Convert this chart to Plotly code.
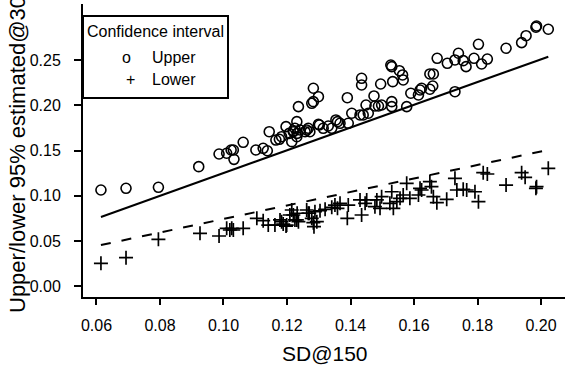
import plotly.graph_objects as go

# ---------------- data ----------------
sd_upper = [0.0614, 0.0693, 0.0795, 0.0922, 0.0986, 0.1010, 0.1024, 0.1031, 0.1033, 0.1062,
            0.1102, 0.1125, 0.1138, 0.1144, 0.1165, 0.1176, 0.1183, 0.1197, 0.1207, 0.1215,
            0.1220, 0.1225, 0.1231, 0.1231, 0.1241, 0.1236, 0.1278, 0.1283, 0.1283, 0.1299,
            0.1257, 0.1267, 0.1272, 0.1302, 0.1314, 0.1330, 0.1341, 0.1354, 0.1359, 0.1367,
            0.1393, 0.1390, 0.1404, 0.1435, 0.1435, 0.1430, 0.1440, 0.1456, 0.1449, 0.1474,
            0.1477, 0.1488, 0.1498, 0.1495, 0.1527, 0.1530, 0.1533, 0.1530, 0.1530, 0.1554,
            0.1564, 0.1566, 0.1577, 0.1590, 0.1614, 0.1619, 0.1624, 0.1650, 0.1659, 0.1650,
            0.1661, 0.1673, 0.1705, 0.1729, 0.1740, 0.1755, 0.1764, 0.1729, 0.1789, 0.1803,
            0.1813, 0.1831, 0.1890, 0.1939, 0.1953, 0.1984, 0.1986, 0.2023, 0.1220, 0.1232,
            0.1262, 0.1299]
upper = [0.1064, 0.1083, 0.1094, 0.1322, 0.1462, 0.1470, 0.1506, 0.1506, 0.1403, 0.1591,
         0.1506, 0.1525, 0.1498, 0.1708, 0.1616, 0.1624, 0.1653, 0.1764, 0.1690, 0.1598,
         0.1708, 0.1746, 0.1819, 0.1653, 0.1727, 0.1985, 0.2022, 0.2040, 0.2188, 0.2095,
         0.1708, 0.1746, 0.1708, 0.1782, 0.1746, 0.1771, 0.1746, 0.1838, 0.1819, 0.1801,
         0.1801, 0.2084, 0.1912, 0.2298, 0.2224, 0.1893, 0.1893, 0.1912, 0.2003, 0.2103,
         0.1992, 0.1992, 0.2003, 0.2235, 0.2445, 0.2427, 0.2261, 0.2040, 0.1985, 0.2382,
         0.2335, 0.2280, 0.1985, 0.2133, 0.2114, 0.2169, 0.2188, 0.2177, 0.2213, 0.2346,
         0.2346, 0.2519, 0.2464, 0.2501, 0.2575, 0.2493, 0.2427, 0.2150, 0.2519, 0.2674,
         0.2456, 0.2511, 0.2630, 0.2692, 0.2769, 0.2862, 0.2876, 0.2840, 0.1719, 0.1690,
         0.1727, 0.1790]

sd_lower = [0.0614, 0.0693, 0.0795, 0.0926, 0.0986, 0.1010, 0.1020, 0.1026, 0.1031, 0.1062,
            0.1105, 0.1125, 0.1141, 0.1162, 0.1178, 0.1199, 0.1215, 0.1220, 0.1225, 0.1232,
            0.1262, 0.1267, 0.1283, 0.1288, 0.1183, 0.1188, 0.1197, 0.1209, 0.1231, 0.1236,
            0.1270, 0.1278, 0.1285, 0.1294, 0.1304, 0.1320, 0.1341, 0.1351, 0.1359, 0.1367,
            0.1393, 0.1390, 0.1430, 0.1435, 0.1446, 0.1451, 0.1477, 0.1483, 0.1493, 0.1498,
            0.1524, 0.1530, 0.1535, 0.1546, 0.1556, 0.1566, 0.1577, 0.1587, 0.1614, 0.1619,
            0.1624, 0.1650, 0.1655, 0.1661, 0.1672, 0.1703, 0.1729, 0.1735, 0.1755, 0.1766,
            0.1792, 0.1803, 0.1818, 0.1831, 0.1890, 0.1939, 0.1950, 0.1984, 0.1986, 0.2023]
lower = [0.0254, 0.0316, 0.0519, 0.0586, 0.0556, 0.0641, 0.0622, 0.0641, 0.0622, 0.0641,
         0.0751, 0.0725, 0.0677, 0.0677, 0.0733, 0.0677, 0.0843, 0.0788, 0.0733, 0.0807,
         0.0843, 0.0807, 0.0703, 0.0824, 0.0714, 0.0688, 0.0666, 0.0788, 0.0733, 0.0714,
         0.0807, 0.0751, 0.0659, 0.0714, 0.0835, 0.0851, 0.0873, 0.0898, 0.0862, 0.0917,
         0.0898, 0.0751, 0.0954, 0.0788, 0.0917, 0.0954, 0.0880, 0.0954, 0.0862, 0.0990,
         0.0917, 0.1045, 0.0862, 0.0935, 0.0972, 0.1009, 0.1138, 0.0972, 0.1009, 0.1083,
         0.1064, 0.1156, 0.1101, 0.0990, 0.0924, 0.0961, 0.1193, 0.1064, 0.1072, 0.1064,
         0.1045, 0.0935, 0.1255, 0.1241, 0.1119, 0.1255, 0.1204, 0.1083, 0.1101, 0.1304]

# fitted reference lines (slope, intercept)
upper_fit = (1.257, -0.0006)
lower_fit = (0.746, -0.0002)

x_ticks = [0.06, 0.08, 0.10, 0.12, 0.14, 0.16, 0.18, 0.20]
y_ticks = [0.00, 0.05, 0.10, 0.15, 0.20, 0.25]

x_title = "SD@150"
y_title = "Upper/lower 95% estimated@300"
legend_title = "Confidence interval"
legend_labels = ["Upper", "Lower"]
legend_symbols = ["o", "+"]

FONT = "Liberation Sans, Arial, Helvetica, sans-serif"

fit_x = [min(sd_upper), max(sd_upper)]

fig = go.Figure()
fig.add_trace(go.Scatter(
    x=fit_x, y=[upper_fit[0] * v + upper_fit[1] for v in fit_x],
    mode="lines", line=dict(color="black", width=2), showlegend=False, hoverinfo="skip"))
fig.add_trace(go.Scatter(
    x=fit_x, y=[lower_fit[0] * v + lower_fit[1] for v in fit_x],
    mode="lines", line=dict(color="black", width=2, dash="10px,11px"),
    showlegend=False, hoverinfo="skip"))
fig.add_trace(go.Scatter(
    x=sd_upper, y=upper, mode="markers", name=legend_labels[0],
    marker=dict(symbol="circle-open", size=10, color="black", line=dict(width=1.6)),
    showlegend=False))
fig.add_trace(go.Scatter(
    x=sd_lower, y=lower, mode="markers", name=legend_labels[1],
    marker=dict(symbol="cross-thin-open", size=10, color="black", line=dict(width=1.7)),
    showlegend=False))

axis_common = dict(
    showgrid=False, zeroline=False, showline=True, linecolor="black", linewidth=2,
    ticks="outside", tickcolor="black", tickwidth=2, tickformat=".2f",
    tickfont=dict(family=FONT, size=16, color="black"),
)
fig.update_xaxes(range=[0.05575, 0.20756], tickvals=x_ticks, ticklen=6,
                 ticklabelstandoff=7, **axis_common)
fig.update_yaxes(range=[-0.0118, 0.3119], tickvals=y_ticks, ticklen=7,
                 ticklabelstandoff=10, **axis_common)

# legend box drawn as a rectangle with text
L, T, R_, B = 83, 16, 228, 98
W, H, PT, PB = 482, 293, 4, 297


def px_x(p):
    return (p - L) / W


def px_y(p):
    return (PB - p) / H


fig.add_shape(type="rect", xref="paper", yref="paper",
              x0=0, x1=px_x(R_), y0=px_y(B), y1=px_y(T),
              line=dict(color="black", width=2), fillcolor="white", layer="above")

ann = []
ann.append(dict(text=legend_title, x=px_x(155), y=px_y(31), xanchor="center", yanchor="middle"))
ann.append(dict(text=legend_symbols[0], x=px_x(126), y=px_y(58), xanchor="center", yanchor="middle"))
ann.append(dict(text=legend_labels[0], x=px_x(150), y=px_y(58), xanchor="left", yanchor="middle"))
ann.append(dict(text=legend_symbols[1], x=px_x(130), y=px_y(79), xanchor="center", yanchor="middle"))
ann.append(dict(text=legend_labels[1], x=px_x(150), y=px_y(79), xanchor="left", yanchor="middle"))
for a in ann:
    a.update(xref="paper", yref="paper", showarrow=False,
             font=dict(family=FONT, size=16, color="black"))
    fig.add_annotation(**a)

fig.add_annotation(text=x_title, xref="paper", yref="paper", x=px_x(325), y=px_y(353),
                   xanchor="center", yanchor="middle", showarrow=False,
                   font=dict(family=FONT, size=21, color="black"))
fig.add_annotation(text=y_title, xref="paper", yref="paper", x=px_x(17), y=px_y(149),
                   xanchor="center", yanchor="middle", textangle=-90, showarrow=False,
                   font=dict(family=FONT, size=22, color="black"))

fig.update_layout(
    width=565, height=373,
    margin=dict(l=L, r=565 - L - W, t=PT, b=373 - PB),
    paper_bgcolor="white", plot_bgcolor="white",
    showlegend=False,
)

fig.write_html("out.html")
